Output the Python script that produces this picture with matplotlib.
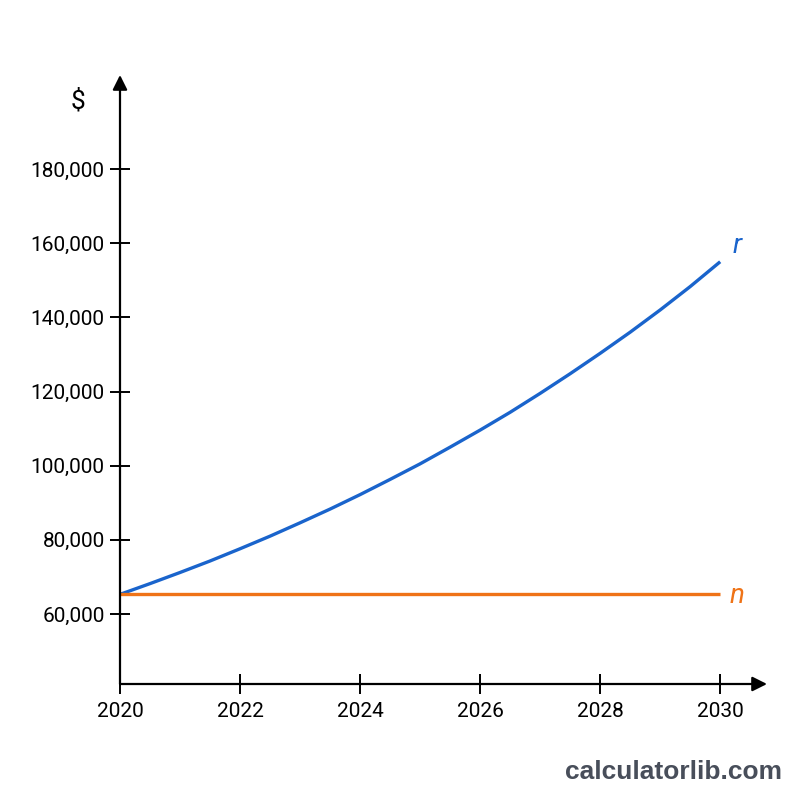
import matplotlib
matplotlib.use('Agg')
import matplotlib.pyplot as plt

# values (half-year reads to follow the curve)
years = [2020, 2020.5, 2021, 2021.5, 2022, 2022.5, 2023, 2023.5, 2024, 2024.5,
         2025, 2025.5, 2026, 2026.5, 2027, 2027.5, 2028, 2028.5, 2029, 2029.5, 2030]
real_values = [65300, 68200, 71200, 74300, 77600, 81000, 84600, 88300, 92200, 96300,
               100500, 105000, 109600, 114400, 119500, 124800, 130300, 136000, 142000,
               148300, 155000]
nominal_values = [65300] * len(years)
x_ticks = [2020, 2022, 2024, 2026, 2028, 2030]
y_ticks = [60000, 80000, 100000, 120000, 140000, 160000, 180000]

blue = '#1a64cc'
orange = '#ef7317'

plt.rcParams['font.family'] = ['Roboto', 'DejaVu Sans']

fig = plt.figure(figsize=(8, 8), dpi=100)
ax = fig.add_axes([120 / 800, 1 - 684 / 800, (767 - 120) / 800, (684 - 75) / 800])

ax.plot(years, real_values, color=blue, lw=2.4, solid_capstyle='butt')
ax.plot(years, nominal_values, color=orange, lw=2.4, solid_capstyle='butt')

ax.set_xlim(2020, 2030.78)
ax.set_ylim(41130, 205360)

for s in ax.spines.values():
    s.set_visible(False)

# axes with arrow heads
ax.annotate('', xy=(1, 0), xytext=(0, 0), xycoords='axes fraction',
            arrowprops=dict(arrowstyle='-|>', color='black', lw=1.6,
                            mutation_scale=22, shrinkA=0, shrinkB=0))
ax.annotate('', xy=(0, 1), xytext=(0, 0), xycoords='axes fraction',
            arrowprops=dict(arrowstyle='-|>', color='black', lw=1.6,
                            mutation_scale=22, shrinkA=0, shrinkB=0))

ax.set_xticks(x_ticks)
ax.set_xticklabels([str(y) for y in x_ticks])
ax.set_yticks(y_ticks)
ax.set_yticklabels([f'{v:,}' for v in y_ticks])
ax.tick_params(axis='both', direction='inout', length=14, width=1.4,
               labelsize=15, colors='black')
ax.tick_params(axis='y', pad=4)
ax.tick_params(axis='x', pad=6)

fig.text(78 / 800, 1 - 101 / 800, '$', fontsize=19, ha='center', va='center')
ax.text(2030.28, real_values[-1] + 4200, 'r', color=blue,
        fontsize=20, style='italic', ha='center', va='center')
ax.text(2030.28, nominal_values[-1] - 500, 'n', color=orange,
        fontsize=20, style='italic', ha='center', va='center')

fig.text(782 / 800, 1 - 772 / 800, 'calculatorlib.com', fontsize=19,
         fontweight='bold', color='#484e5a', ha='right', va='center',
         family=['Liberation Sans', 'DejaVu Sans'])

fig.savefig('out.png', dpi=100, facecolor='white')
